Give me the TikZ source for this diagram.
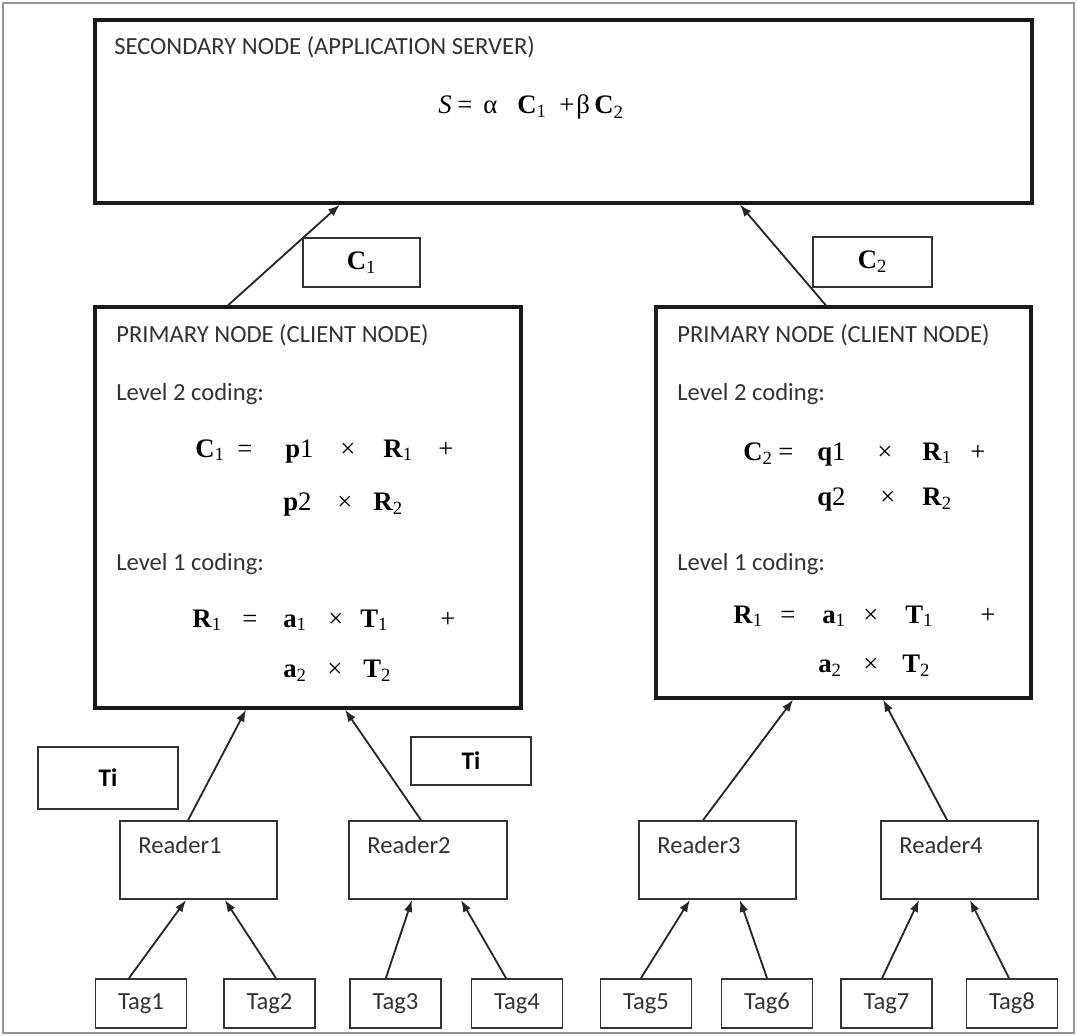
\documentclass[tikz,border=0pt]{standalone}
\usepackage{fontspec}
\setmainfont{Carlito}
\newfontfamily\tnr{Liberation Serif}
\usetikzlibrary{calc,arrows.meta}

\definecolor{inkgray}{RGB}{50,50,50}
\definecolor{framegray}{RGB}{150,150,150}

\newcommand{\cell}[2]{\makebox[#1mm][l]{#2}}
\newcommand{\bsub}[2]{\textbf{#1}\textsubscript{#2}}

\tikzset{
  lbl/.style={text=inkgray, font=\fontsize{17.5}{21}\selectfont, inner sep=0pt},
  eqn/.style={font=\tnr\fontsize{19}{22}\selectfont, inner sep=0pt, anchor=base west},
  bigbox/.style={draw=black!90, line width=2.4pt},
  smallbox/.style={draw=black!80, line width=1.3pt, text=inkgray, font=\fontsize{17.5}{21}\selectfont},
  rdlbl/.style={lbl, anchor=north west, inner xsep=4.75mm, inner ysep=3.95mm},
  up/.style={-{Latex[length=3mm,width=2.2mm]}, line width=1.3pt, draw=black!85},
}

\begin{document}
\begin{tikzpicture}[x=2.5mm, y=-2.5mm]
  \useasboundingbox (0.0, 0.0) rectangle (107.7, 103.6);
  \draw [framegray, line width=1.2pt] (0.3, 0.3) rectangle (107.4, 103.3);

  % server and client boxes
  \node (srv)  at (56.35, 11.15) [bigbox, minimum width=234.25mm, minimum height=45.75mm] {};
  \node (pri1) at (30.8,  50.75) [bigbox, minimum width=106.5mm,  minimum height=100.25mm] {};
  \node (pri2) at (84.35, 50.25) [bigbox, minimum width=93.75mm,  minimum height=97.75mm] {};

  \node (srvtitle) at (11.4, 5.5) [lbl, anchor=base west] {SECONDARY NODE (APPLICATION SERVER)};
  \node (srveq) at (43.8, 11.4) [eqn]
    {\cell{4.75}{\textit{S}}\cell{6.5}{=}\cell{8.5}{α}\cell{10.5}{\bsub{C}{1}}\cell{4.25}{+}\cell{4.5}{β}\bsub{C}{2}};

  % left client
  \node (pri1title) at (11.6, 34.2) [lbl, anchor=base west] {PRIMARY NODE (CLIENT NODE)};
  \node (pri1lvtwo) at (11.6, 40.0) [lbl, anchor=base west] {Level 2 coding:};
  \node (pri1eqa) at (19.5, 45.7) [eqn]
    {\cell{10.5}{\bsub{C}{1}}\cell{12}{=}\cell{13.75}{\textbf{p}1}\cell{10.75}{×}\cell{13.75}{\bsub{R}{1}}+};
  \node (pri1eqb) at (28.3, 51.0) [eqn] {\cell{13.5}{\textbf{p}2}\cell{9}{×}\bsub{R}{2}};
  \node (pri1lvone) at (11.6, 57.0) [lbl, anchor=base west] {Level 1 coding:};
  \node (pri1eqc) at (19.2, 62.7) [eqn]
    {\cell{12.5}{\bsub{R}{1}}\cell{10.25}{=}\cell{11.25}{\bsub{a}{1}}\cell{8}{×}\cell{20}{\bsub{T}{1}}+};
  \node (pri1eqd) at (28.3, 67.7) [eqn] {\cell{11}{\bsub{a}{2}}\cell{9}{×}\bsub{T}{2}};

  % right client
  \node (pri2title) at (67.7, 34.2) [lbl, anchor=base west] {PRIMARY NODE (CLIENT NODE)};
  \node (pri2lvtwo) at (67.7, 40.0) [lbl, anchor=base west] {Level 2 coding:};
  \node (pri2eqa) at (74.3, 46.0) [eqn]
    {\cell{8.75}{\bsub{C}{2}}\cell{9.75}{=}\cell{15}{\textbf{q}1}\cell{11.25}{×}\cell{12}{\bsub{R}{1}}+};
  \node (pri2eqb) at (81.7, 50.5) [eqn] {\cell{15.75}{\textbf{q}2}\cell{10.5}{×}\bsub{R}{2}};
  \node (pri2lvone) at (67.7, 57.0) [lbl, anchor=base west] {Level 1 coding:};
  \node (pri2eqc) at (73.3, 62.3) [eqn]
    {\cell{11.75}{\bsub{R}{1}}\cell{10.5}{=}\cell{10.25}{\bsub{a}{1}}\cell{10.5}{×}\cell{18.75}{\bsub{T}{1}}+};
  \node (pri2eqd) at (81.8, 67.2) [eqn] {\cell{11.25}{\bsub{a}{2}}\cell{9.75}{×}\bsub{T}{2}};

  % message boxes
  \node (cone) at (36.15, 26.25) [smallbox, minimum width=29.25mm, minimum height=12.25mm,
    text=black, font=\tnr\fontsize{19}{22}\selectfont] {\bsub{C}{1}};
  \node (ctwo) at (87.25, 26.2)  [smallbox, minimum width=29.75mm, minimum height=12.5mm,
    text=black, font=\tnr\fontsize{19}{22}\selectfont] {\bsub{C}{2}};
  \node (tione) at (10.8, 77.8)  [smallbox, minimum width=35mm, minimum height=15.5mm,
    text=black, font=\bfseries\fontsize{18}{21}\selectfont] {Ti};
  \node (titwo) at (47.1, 76.1)  [smallbox, minimum width=30mm, minimum height=12mm,
    text=black, font=\bfseries\fontsize{18}{21}\selectfont] {Ti};

  % readers
  \node (rd1) at (19.85, 86.0) [smallbox, minimum width=39.25mm, minimum height=19.5mm,
    label={[rdlbl]north west:Reader1}] {};
  \node (rd2) at (42.8,  86.0) [smallbox, minimum width=39.5mm,  minimum height=19.5mm,
    label={[rdlbl]north west:Reader2}] {};
  \node (rd3) at (71.75, 86.0) [smallbox, minimum width=39.25mm, minimum height=19.5mm,
    label={[rdlbl]north west:Reader3}] {};
  \node (rd4) at (95.95, 86.0) [smallbox, minimum width=39.25mm, minimum height=19.5mm,
    label={[rdlbl]north west:Reader4}] {};

  % tags
  \node (tag1) at ( 14.1, 100.35) [smallbox, minimum width=22.75mm, minimum height=12.25mm] {Tag1};
  \node (tag2) at (26.95, 100.35) [smallbox, minimum width=22.75mm, minimum height=12.25mm] {Tag2};
  \node (tag3) at (39.55, 100.35) [smallbox, minimum width=22.75mm, minimum height=12.25mm] {Tag3};
  \node (tag4) at ( 51.7, 100.35) [smallbox, minimum width=22.75mm, minimum height=12.25mm] {Tag4};
  \node (tag5) at ( 64.6, 100.35) [smallbox, minimum width=22.75mm, minimum height=12.25mm] {Tag5};
  \node (tag6) at ( 76.7, 100.35) [smallbox, minimum width=22.75mm, minimum height=12.25mm] {Tag6};
  \node (tag7) at (88.65, 100.35) [smallbox, minimum width=22.75mm, minimum height=12.25mm] {Tag7};
  \node (tag8) at (101.2, 100.35) [smallbox, minimum width=22.75mm, minimum height=12.25mm] {Tag8};

  \draw [up] ([xshift=-3mm]tag1.north)    -- ([xshift=-3.1mm]rd1.south);
  \draw [up] ([xshift=1.6mm]tag2.north)   -- ([xshift=6.6mm]rd1.south);
  \draw [up] ([xshift=-2.4mm]tag3.north)  -- ([xshift=-4mm]rd2.south);
  \draw [up] ([xshift=-2.75mm]tag4.north) -- ([xshift=8.25mm]rd2.south);
  \draw [up] ([xshift=-1.25mm]tag5.north) -- ([xshift=-6.9mm]rd3.south);
  \draw [up] (tag6.north)                 -- ([xshift=5.6mm]rd3.south);
  \draw [up] ([xshift=-1.1mm]tag7.north)  -- ([xshift=-10.1mm]rd4.south);
  \draw [up] ([xshift=-0.75mm]tag8.north) -- ([xshift=2.6mm]rd4.south);

  \draw [up] ([xshift=-2.6mm]rd1.north) -- ([xshift=-15.5mm]pri1.south);
  \draw [up] ([xshift=-1.75mm]rd2.north) -- ([xshift=9.25mm]pri1.south);
  \draw [up] ([xshift=-3.6mm]rd3.north) -- ([xshift=-12.6mm]pri2.south);
  \draw [up] ([xshift=-3.1mm]rd4.north) -- ([xshift=9.9mm]pri2.south);

  \draw [up] ([xshift=-20mm]pri1.north) -- ([xshift=-55.9mm]srv.south);
  \draw [up] ([xshift=-4.4mm]pri2.north) -- ([xshift=44.1mm]srv.south);
\end{tikzpicture}
\end{document}
